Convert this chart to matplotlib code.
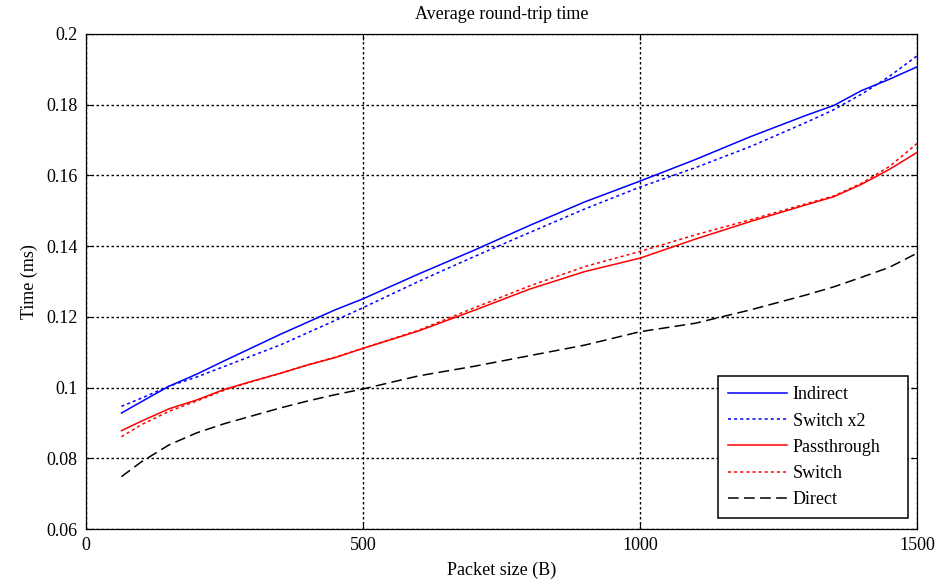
import matplotlib
matplotlib.use("Agg")
import matplotlib.pyplot as plt

plt.rcParams['font.family'] = ['Liberation Serif', 'DejaVu Serif']
plt.rcParams['mathtext.fontset'] = 'stix'

# Packet sizes (bytes) and measured average round-trip times (ms)
packet_size = [64, 100, 150, 200, 250, 300, 350, 400, 450, 500, 600, 700, 800,
               900, 1000, 1100, 1200, 1300, 1350, 1400, 1450, 1500]

indirect = [0.0928, 0.0960, 0.1004, 0.1038, 0.1076, 0.1113, 0.1150, 0.1185,
            0.1220, 0.1251, 0.1321, 0.1388, 0.1458, 0.1525, 0.1584, 0.1645,
            0.1710, 0.1770, 0.1798, 0.1840, 0.1872, 0.1907]
switch_x2 = [0.0947, 0.0970, 0.1004, 0.1030, 0.1060, 0.1090, 0.1120, 0.1155,
             0.1190, 0.1226, 0.1300, 0.1370, 0.1438, 0.1505, 0.1567, 0.1622,
             0.1682, 0.1750, 0.1786, 0.1830, 0.1880, 0.1938]
passthrough = [0.0878, 0.0905, 0.0940, 0.0965, 0.0995, 0.1018, 0.1040, 0.1064,
               0.1085, 0.1111, 0.1160, 0.1218, 0.1278, 0.1328, 0.1366, 0.1420,
               0.1470, 0.1517, 0.1540, 0.1575, 0.1617, 0.1665]
switch = [0.0861, 0.0895, 0.0933, 0.0962, 0.0993, 0.1017, 0.1040, 0.1064,
          0.1086, 0.1111, 0.1162, 0.1225, 0.1287, 0.1342, 0.1385, 0.1432,
          0.1475, 0.1520, 0.1542, 0.1578, 0.1625, 0.1690]
direct = [0.0748, 0.0790, 0.0838, 0.0872, 0.0898, 0.0920, 0.0942, 0.0962,
          0.0980, 0.0996, 0.1033, 0.1060, 0.1090, 0.1120, 0.1158, 0.1182,
          0.1220, 0.1262, 0.1285, 0.1312, 0.1340, 0.1380]

x_ticks = [0, 500, 1000, 1500]
x_tick_labels = ['0', '500', '1000', '1500']
y_ticks = [0.06, 0.08, 0.10, 0.12, 0.14, 0.16, 0.18, 0.20]
y_tick_labels = ['0.06', '0.08', '0.1', '0.12', '0.14', '0.16', '0.18', '0.2']

FS = 13

fig = plt.figure(figsize=(9.37, 5.84), dpi=100)
ax = fig.add_axes([86 / 937, 55 / 584, 831 / 937, 495 / 584])

lw = 1.1
ax.plot(packet_size, indirect, color='#0000ff', lw=lw, label='Indirect')
ax.plot(packet_size, switch_x2, color='#0000ff', lw=lw, ls=(0, (2, 2)), label='Switch x2')
ax.plot(packet_size, passthrough, color='#ff0000', lw=lw, label='Passthrough')
ax.plot(packet_size, switch, color='#ff0000', lw=lw, ls=(0, (2, 2)), label='Switch')
ax.plot(packet_size, direct, color='black', lw=lw, ls=(0, (7, 3.5)), label='Direct')

ax.set_xlim(0, 1500)
ax.set_ylim(0.06, 0.2)
ax.set_xticks(x_ticks)
ax.set_xticklabels(x_tick_labels)
ax.set_yticks(y_ticks)
ax.set_yticklabels(y_tick_labels)

ax.grid(True, color='black', ls=(0, (1.8, 1.8)), lw=1.0)
ax.tick_params(direction='in', length=4, width=0.8, top=True, right=True,
               labelsize=FS, pad=6)
for s in ax.spines.values():
    s.set_linewidth(0.9)

ax.set_title('Average round-trip time', fontsize=FS, pad=11)
ax.set_xlabel('Packet size (B)', fontsize=FS, labelpad=5)
ax.set_ylabel('Time (ms)', fontsize=FS, labelpad=6)

# legend box spans a fixed width in the lower right corner
leg = ax.legend(loc='lower left', bbox_to_anchor=(0.7605, 0.022, 0.2286, 0.28),
                mode='expand', borderaxespad=0,
                fontsize=FS, handlelength=3.25, handletextpad=0.33,
                labelspacing=0.51, borderpad=0.55, fancybox=False, framealpha=1,
                edgecolor='black')
leg.get_frame().set_linewidth(1.1)

fig.savefig('out.png', dpi=100)
